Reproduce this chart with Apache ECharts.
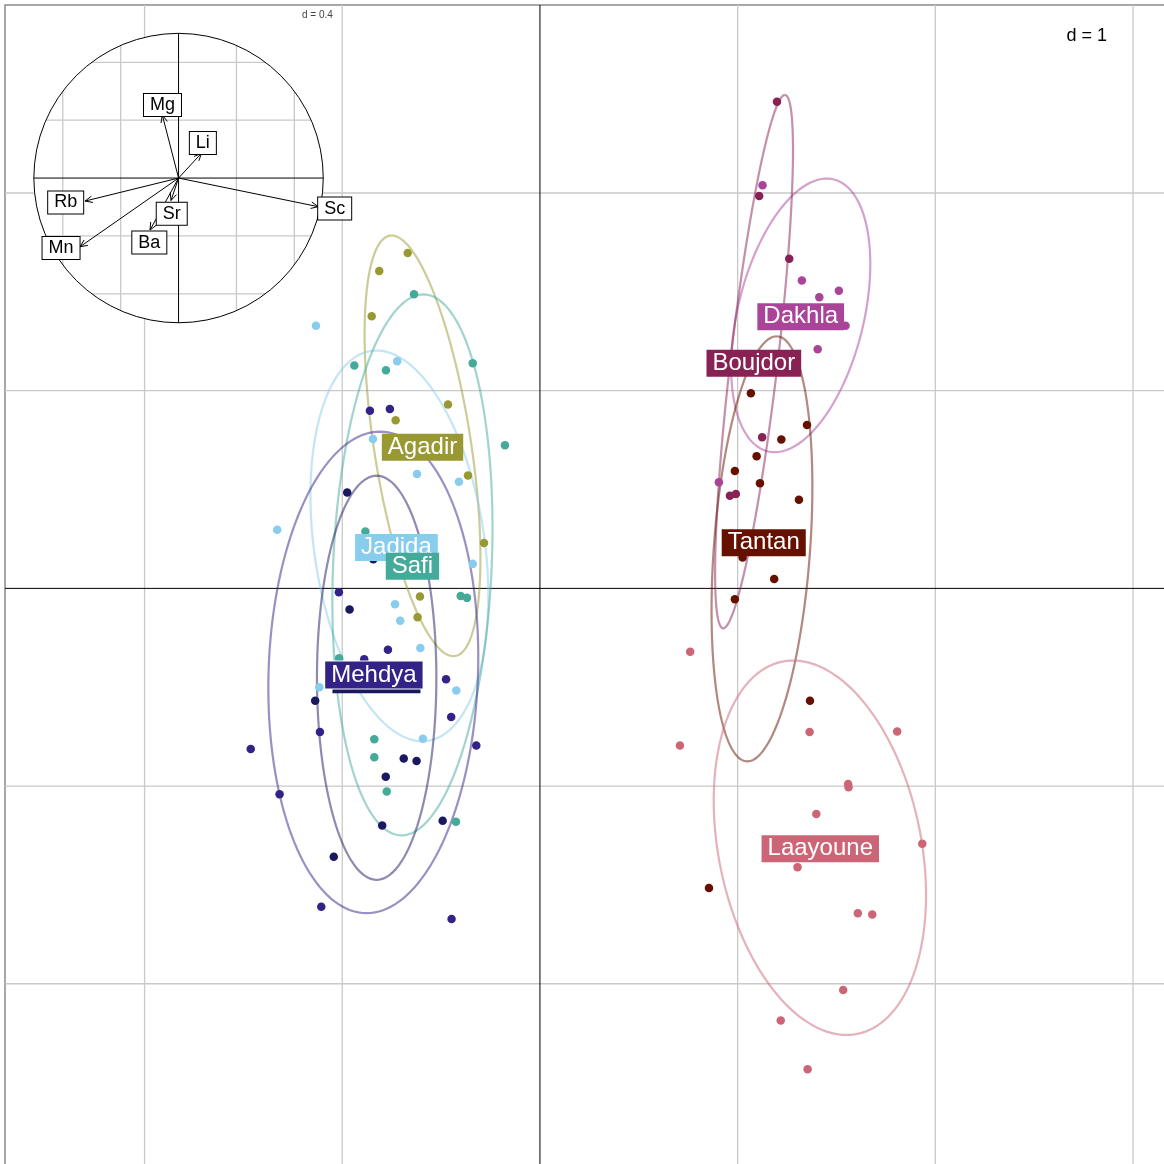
<!DOCTYPE html>
<html>
<head>
<meta charset="utf-8">
<script src="https://cdn.jsdelivr.net/npm/echarts@6/dist/echarts.min.js"></script>
<style>html,body{margin:0;padding:0;background:#fff;overflow:hidden}#c{width:1164px;height:1164px}</style>
</head>
<body>
<div id="c"></div>
<script>
const FONT = '"Liberation Sans", Arial, Helvetica, sans-serif';

// ---- main plot data (factor scores) ----
const xTicks = [-2, -1, 1, 2, 3];
const yTicks = [-2, -1, 1, 2];
const groupNames  = ['Agadir','Jadida','Safi','Kenitra','Mehdya','Dakhla','Boujdor','Tantan','Laayoune'];
const groupColors = ['#999933','#88CCEE','#44AA99','#1B1862','#332288','#AA4499','#882255','#661100','#CC6677'];

const agadirPts = [[-0.669,1.697],[-0.813,1.606],[-0.851,1.377],[-0.465,0.930],[-0.730,0.851],[-0.364,0.571],[-0.283,0.229],[-0.607,-0.041],[-0.619,-0.146]];
const jadidaPts = [[-1.133,1.328],[-0.722,1.149],[-0.845,0.756],[-0.622,0.578],[-0.410,0.539],[-1.329,0.296],[-0.340,0.124],[-0.733,-0.080],[-0.707,-0.164],[-0.605,-0.302],[-0.423,-0.517],[-0.592,-0.761],[-1.116,-0.500]];
const safiPts = [[-0.637,1.488],[-0.939,1.127],[-0.779,1.104],[-0.340,1.139],[-0.177,0.724],[-0.883,0.288],[-0.401,-0.038],[-0.369,-0.048],[-1.016,-0.354],[-0.838,-0.763],[-0.838,-0.854],[-0.775,-1.028],[-0.425,-1.180]];
const kenitraPts = [[-0.975,0.485],[-0.843,0.147],[-0.963,-0.107],[-1.137,-0.569],[-0.689,-0.861],[-0.624,-0.873],[-0.780,-0.953],[-0.798,-1.200],[-0.492,-1.176],[-1.043,-1.357]];
const mehdyaPts = [[-0.860,0.898],[-0.759,0.908],[-1.017,-0.019],[-0.769,-0.311],[-0.889,-0.358],[-0.475,-0.460],[-0.449,-0.651],[-1.113,-0.727],[-0.322,-0.795],[-1.463,-0.812],[-1.317,-1.041],[-1.106,-1.610],[-0.447,-1.672]];
const dakhlaPts = [[1.126,2.039],[1.325,1.557],[1.413,1.473],[1.512,1.506],[1.546,1.329],[1.405,1.210],[0.905,0.537]];
const boujdorPts = [[1.199,2.462],[1.109,1.985],[1.261,1.668],[1.124,0.765],[0.961,0.468],[0.991,0.478]];
const tantanPts = [[1.067,0.987],[1.351,0.827],[1.221,0.753],[1.096,0.669],[0.986,0.594],[1.113,0.532],[1.310,0.448],[1.025,0.156],[1.185,0.047],[0.986,-0.055],[1.366,-0.568],[0.855,-1.515]];
const laayounePts = [[0.760,-0.321],[0.708,-0.795],[1.364,-0.727],[1.807,-0.724],[1.559,-0.989],[1.561,-1.006],[1.398,-1.141],[1.934,-1.292],[1.303,-1.410],[1.608,-1.643],[1.681,-1.650],[1.534,-2.032],[1.218,-2.186],[1.354,-2.432]];
const groupPoints = [agadirPts, jadidaPts, safiPts, kenitraPts, mehdyaPts, dakhlaPts, boujdorPts, tantanPts, laayounePts];

// group centres (label positions)
const groupCenters = [[-0.594,0.721],[-0.726,0.215],[-0.645,0.119],[-0.827,-0.454],[-0.840,-0.431],[1.319,1.381],[1.082,1.147],[1.132,0.239],[1.418,-1.310]];

// ellipses: centre x, centre y, half height, half width, x shift of topmost point
const ellipseParams = [
  [-0.594, 0.721, 1.064, 0.293, -0.156],
  [-0.711, 0.215, 0.988, 0.450, -0.116],
  [-0.645, 0.119, 1.368, 0.405,  0.055],
  [-0.826,-0.452, 1.022, 0.302,  0.000],
  [-0.843,-0.425, 1.218, 0.531,  0.034],
  [ 1.319, 1.381, 0.692, 0.352,  0.132],
  [ 1.083, 1.147, 1.349, 0.197,  0.156],
  [ 1.123, 0.200, 1.075, 0.255,  0.074],
  [ 1.416,-1.312, 0.947, 0.537, -0.135]
];

// ---- correlation circle data ----
const varNames = ['Mg','Li','Rb','Mn','Sr','Ba','Sc'];
const varTips = [[-0.112,0.435],[0.158,0.171],[-0.646,-0.159],[-0.681,-0.475],[-0.052,-0.155],[-0.197,-0.359],[0.966,-0.198]];
const varLabelPos = [[-0.111,0.511],[0.168,0.249],[-0.780,-0.162],[-0.812,-0.477],[-0.047,-0.240],[-0.202,-0.439],[1.079,-0.204]];
const circleTicks = [-0.8, -0.4, 0.4, 0.8];

// axis ranges
const X_MIN = -2.706, X_MAX = 3.182, Y_MIN = -2.937, Y_MAX = 2.951;
const C_MIN = -1.2, C_MAX = 1.2;

const chart = echarts.init(document.getElementById('c'), null, {renderer: 'canvas'});

const series = [];

// grid lines of main plot
const gridData = xTicks.map(v => [v, 0, 0]).concat(yTicks.map(v => [0, v, 1])).concat([[0, 0, 2], [0, 0, 3]]);
series.push({
  type: 'custom', xAxisIndex: 0, yAxisIndex: 0, z: 1, silent: true, clip: true,
  data: gridData,
  renderItem(params, api) {
    const cs = params.coordSys;
    const kind = api.value(2);
    const p = api.coord([api.value(0), api.value(1)]);
    let shape;
    if (kind === 0 || kind === 2) shape = {x1: p[0], y1: cs.y, x2: p[0], y2: cs.y + cs.height};
    else shape = {x1: cs.x, y1: p[1], x2: cs.x + cs.width, y2: p[1]};
    const isAxis = kind >= 2;
    return {type: 'line', shape, style: {stroke: isAxis ? '#000' : '#c9c9c9', lineWidth: isAxis ? 1 : 1.3}};
  }
});

// ellipses
series.push({
  type: 'custom', xAxisIndex: 0, yAxisIndex: 0, z: 2, silent: true, clip: true,
  data: ellipseParams.map((e, i) => e.concat([i])),
  renderItem(params, api) {
    const cx = api.value(0), cy = api.value(1), H = api.value(2), W = api.value(3), dx = api.value(4);
    const gi = api.value(5);
    const q = Math.sqrt(Math.max(W * W - dx * dx, 0));
    const pts = [];
    const n = 160;
    for (let i = 0; i <= n; i++) {
      const t = 2 * Math.PI * i / n;
      pts.push(api.coord([cx + dx * Math.cos(t) + q * Math.sin(t), cy + H * Math.cos(t)]));
    }
    return {type: 'polyline', shape: {points: pts}, style: {fill: null, stroke: groupColors[gi], lineWidth: 2.2, opacity: 0.5}};
  }
});

// points
groupNames.forEach((g, i) => {
  series.push({
    type: 'scatter', name: g, xAxisIndex: 0, yAxisIndex: 0, z: 3,
    symbol: 'circle', symbolSize: 8.5,
    itemStyle: {color: groupColors[i], opacity: 1},
    data: groupPoints[i]
  });
});

// group labels
groupNames.forEach((g, i) => {
  series.push({
    type: 'scatter', xAxisIndex: 0, yAxisIndex: 0, z: 5 + i, silent: true,
    symbol: 'circle', symbolSize: 1,
    itemStyle: {color: 'rgba(0,0,0,0)', opacity: 1},
    label: {
      show: true, position: 'inside', formatter: g, opacity: 1, offset: [0, 1.5],
      color: '#fff', fontFamily: FONT, fontSize: 24, lineHeight: 25,
      backgroundColor: groupColors[i], padding: [1, 6],
      borderColor: '#fff', borderWidth: g === 'Mehdya' ? 1 : 0
    },
    data: [groupCenters[i]]
  });
});

// inset: circle, grid lines, axes
series.push({
  type: 'custom', xAxisIndex: 1, yAxisIndex: 1, z: 20, silent: true, clip: false,
  data: [[0, 0]],
  renderItem(params, api) {
    const c = api.coord([0, 0]);
    const r = api.size([1, 1])[0];
    const children = [];
    children.push({type: 'circle', shape: {cx: c[0], cy: c[1], r: r}, style: {fill: '#fff', stroke: null}});
    circleTicks.forEach(v => {
      const h = Math.sqrt(1 - v * v);
      const a = api.coord([v, -h]), b = api.coord([v, h]);
      children.push({type: 'line', shape: {x1: a[0], y1: a[1], x2: b[0], y2: b[1]}, style: {stroke: '#c9c9c9', lineWidth: 1.3}});
      const a2 = api.coord([-h, v]), b2 = api.coord([h, v]);
      children.push({type: 'line', shape: {x1: a2[0], y1: a2[1], x2: b2[0], y2: b2[1]}, style: {stroke: '#c9c9c9', lineWidth: 1.3}});
    });
    const t1 = api.coord([0, -1]), t2 = api.coord([0, 1]);
    children.push({type: 'line', shape: {x1: t1[0], y1: t1[1], x2: t2[0], y2: t2[1]}, style: {stroke: '#000', lineWidth: 1}});
    const h1 = api.coord([-1, 0]), h2 = api.coord([1, 0]);
    children.push({type: 'line', shape: {x1: h1[0], y1: h1[1], x2: h2[0], y2: h2[1]}, style: {stroke: '#000', lineWidth: 1}});
    children.push({type: 'circle', shape: {cx: c[0], cy: c[1], r: r}, style: {fill: null, stroke: '#000', lineWidth: 1}});
    return {type: 'group', children};
  }
});

// inset: arrows
series.push({
  type: 'custom', xAxisIndex: 1, yAxisIndex: 1, z: 21, silent: true, clip: false,
  data: varTips,
  renderItem(params, api) {
    const o = api.coord([0, 0]);
    const p = api.coord([api.value(0), api.value(1)]);
    const ang = Math.atan2(p[1] - o[1], p[0] - o[0]);
    const L = 8, A = 0.42;
    const h1 = [p[0] - L * Math.cos(ang - A), p[1] - L * Math.sin(ang - A)];
    const h2 = [p[0] - L * Math.cos(ang + A), p[1] - L * Math.sin(ang + A)];
    const st = {stroke: '#000', lineWidth: 1};
    return {type: 'group', children: [
      {type: 'line', shape: {x1: o[0], y1: o[1], x2: p[0], y2: p[1]}, style: st},
      {type: 'polyline', shape: {points: [h1, p, h2]}, style: Object.assign({fill: null}, st)}
    ]};
  }
});

// inset: variable labels
series.push({
  type: 'scatter', xAxisIndex: 1, yAxisIndex: 1, z: 22, silent: true,
  symbol: 'circle', symbolSize: 1,
  itemStyle: {color: 'rgba(0,0,0,0)', opacity: 1},
  label: {
    show: true, position: 'inside', formatter: p => p.name, opacity: 1, offset: [0, 1],
    color: '#000', fontFamily: FONT, fontSize: 18, lineHeight: 20,
    backgroundColor: '#fff', borderColor: '#000', borderWidth: 1, padding: [1, 6]
  },
  data: varNames.map((n, i) => ({name: n, value: varLabelPos[i]}))
});

chart.setOption({
  animation: false,
  backgroundColor: '#fff',
  grid: [
    {left: 5, top: 5, width: 1164, height: 1164, show: true, borderColor: '#8a8a8a', borderWidth: 1.5, backgroundColor: 'rgba(0,0,0,0)', outerBoundsMode: 'none', containLabel: false},
    {left: 4.9, top: 4.4, width: 347.3, height: 347.3, show: false, outerBoundsMode: 'none', containLabel: false}
  ],
  xAxis: [
    {gridIndex: 0, type: 'value', min: X_MIN, max: X_MAX, show: false},
    {gridIndex: 1, type: 'value', min: C_MIN, max: C_MAX, show: false}
  ],
  yAxis: [
    {gridIndex: 0, type: 'value', min: Y_MIN, max: Y_MAX, show: false},
    {gridIndex: 1, type: 'value', min: C_MIN, max: C_MAX, show: false}
  ],
  graphic: [
    {type: 'text', right: 57, top: 27, z: 100, style: {text: 'd = 1', fontFamily: FONT, fontSize: 18, fill: '#000'}},
    {type: 'text', left: 302, top: 10, z: 100, style: {text: 'd = 0.4', fontFamily: FONT, fontSize: 10, fill: '#444'}}
  ],
  series
});
</script>
</body>
</html>
